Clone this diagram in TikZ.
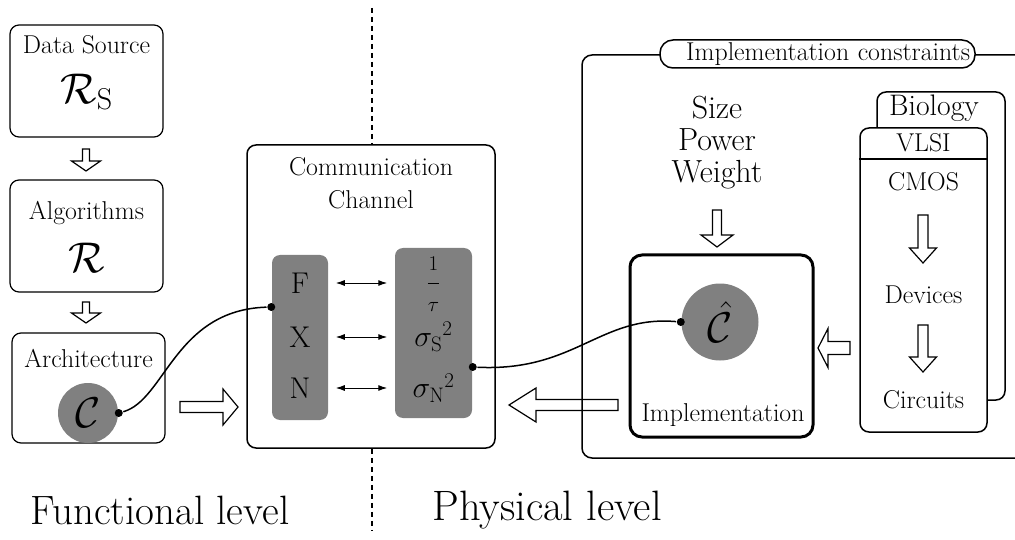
\RequirePackage{fix-cm}
\documentclass[tikz,border=0pt]{standalone}
\usepackage{fontspec}
\usetikzlibrary{arrows.meta}
\tikzset{
  box/.style={draw, rounded corners=9},
  txt/.style={font=\fontsize{25.8}{33}\selectfont},
  big/.style={font=\fontsize{43}{46}\selectfont},
  sym/.style={font=\fontsize{30}{34}\selectfont, inner sep=0},
  shade/.style={fill=black!50, rounded corners=8},
  blob/.style={circle, fill=black!50, inner sep=0},
  dot/.style={circle, fill, inner sep=0, minimum size=8},
  pics/harrow/.style n args={4}{code={
    \draw[line width=1.2] (0,-#2/2) -- (#1-#4,-#2/2) -- (#1-#4,-#3/2) -- (#1,0)
      -- (#1-#4,#3/2) -- (#1-#4,#2/2) -- (0,#2/2) -- cycle;
  }},
}
\begin{document}
\begin{tikzpicture}[x=1pt, y=-1pt, line width=1.5pt, >={Latex[length=9pt,width=6pt]}]
  \useasboundingbox (0,0) rectangle (1015,540);
  % functional side
  \node[box, line width=1.2, minimum width=153, minimum height=112] (src) at (86.5,81) {};
  \node[txt] (srcT) at (86.5,45) {Data Source};
  \node[big] (Rs) at (86.5,92) {$\mathcal{R}_{\mathrm{S}}$};
  \node[box, line width=1.2, minimum width=153, minimum height=112] (alg) at (86.5,236) {};
  \node[txt] (algT) at (86.5,213) {Algorithms};
  \node[big] (R) at (86.5,258) {$\mathcal{R}$};
  \node[box, line width=1.2, minimum width=153, minimum height=110] (arch) at (88.5,388) {};
  \node[txt] (archT) at (88.5,358) {Architecture};
  \node[blob, big, minimum size=60] (archC) at (88,413) {$\mathcal{C}$};
  \node[dot] (archdot) at (archC.east) {};
  \pic[rotate=-90] at (86,149) {harrow={22}{7}{29}{10}};
  \pic[rotate=-90] at (86,302) {harrow={21}{7}{29}{10}};
  \pic at (180,407) {harrow={58}{11}{36}{15}};

  % channel
  \node[box, minimum width=248, minimum height=303] (chan) at (371,296.5) {};
  \node[txt, align=center] (chanT) at (371,183.5) {Communication\\Channel};
  \node[shade, minimum width=56, minimum height=165] (lblock) at (300,337.5) {};
  \node[shade, minimum width=77, minimum height=170] (rblock) at (433.5,333) {};
  \node[sym, minimum width=56] (F) at (300,283) {F};
  \node[sym, minimum width=56] (X) at (300,337) {X};
  \node[sym, minimum width=56] (N) at (300,388) {N};
  \node[sym, minimum width=77] (tau) at (433.5,284) {$\displaystyle\frac{\scriptstyle 1}{\scriptstyle\tau}$};
  \node[sym, minimum width=77] (sigS) at (433.5,337) {$\sigma_{\mathrm{S}}{}^2$};
  \node[sym, minimum width=77] (sigN) at (433.5,388) {$\sigma_{\mathrm{N}}{}^2$};
  \draw[<->, line width=1, shorten <=7, shorten >=7] (F) -- (F -| tau.west);
  \draw[<->, line width=1, shorten <=7, shorten >=7] (X) -- (sigS);
  \draw[<->, line width=1, shorten <=7, shorten >=7] (N) -- (sigN);
  \node[dot] (fdot) at ([yshift=30.5]lblock.west) {};
  \node[dot] (rdot) at ([yshift=-34]rblock.east) {};
  \draw (archdot) .. controls (165,400) and (175,310) .. (fdot);

  % level divider
  \coordinate (divtop) at (372,8);
  \coordinate (divbot) at (372,530);
  \draw[line width=2.5, dash pattern=on 5pt off 4pt] (divtop) -- (chan.north -| divtop);
  \draw[line width=2.5, dash pattern=on 5pt off 4pt] (chan.south -| divtop) -- (divbot);

  % physical side
  \draw[rounded corners=10] (1015,55) -- (582,55) -- (582,458) -- (1015,458);
  \node[draw, fill=white, rounded corners=13, txt, text width=305, align=right,
        inner xsep=5, inner ysep=1, minimum height=28] (tag) at (817.5,54) {Implementation constraints};
  \node[font=\fontsize{32}{32}\selectfont, align=center] (spw) at (717,142.5) {Size\\Power\\Weight};
  \pic[rotate=-90] at (717,210) {harrow={37}{9}{32}{12}};
  \node[draw, line width=3, rounded corners=12, minimum width=183, minimum height=182] (impl) at (721.5,346) {};
  \node[blob, big, minimum size=77] (hatC) at (720,322) {$\hat{\mathcal{C}}$};
  \node[txt] (implT) at (723,415) {Implementation};
  \node[dot] (cdot) at (hatC.west) {};
  \draw (rdot) .. controls (575,372) and (600,315) .. (cdot);
  \pic[rotate=180] at (618,405) {harrow={109}{11}{34}{27}};

  \node[box, minimum width=128, minimum height=308] (bio) at (941,246) {};
  \node[font=\fontsize{29.7}{32}\selectfont] (bioT) at (934,108) {Biology};
  \node[box, fill=white, minimum width=127, minimum height=304] (vlsi) at (923.5,280) {};
  \draw ([yshift=-32]vlsi.north west) -- ([yshift=-32]vlsi.north east);
  \node[txt] (vlsiT) at (923.5,143) {VLSI};
  \node[txt] (cmos) at (923.5,182) {CMOS};
  \node[txt] (dev) at (923.5,295) {Devices};
  \node[txt] (circ) at (923.5,400) {Circuits};
  \pic[rotate=-90] at (923,215) {harrow={48}{10}{27}{15}};
  \pic[rotate=-90] at (923,325) {harrow={47}{10}{27}{15}};
  \pic[rotate=180] at (850,348) {harrow={32}{13}{39}{10}};

  % level names
  \node[font=\fontsize{41}{44}\selectfont] (funT) at (160,510) {Functional level};
  \node[font=\fontsize{42.5}{44}\selectfont] (phyT) at (547,510) {Physical level};
\end{tikzpicture}
\end{document}
